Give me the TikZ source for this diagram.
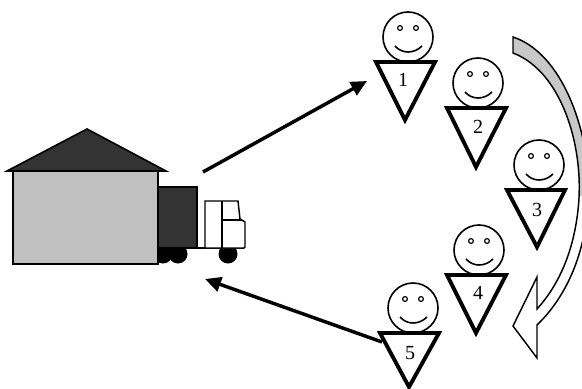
\documentclass[tikz,border=0pt]{standalone}
\usepackage{fontspec}
\setmainfont{Liberation Serif}
\usetikzlibrary{arrows.meta}

\definecolor{wallgray}{RGB}{192,192,192}
\definecolor{darkfill}{RGB}{51,51,51}
\definecolor{bandgray}{RGB}{200,200,200}

\tikzset{
  head/.style={line width=1.2pt},
  eye/.style={line width=0.9pt},
  body/.style={line width=2.9pt, line join=miter},
  num/.style={inner sep=0pt, font=\fontsize{15}{17}\selectfont},
  flow/.style={line width=2.6pt, -{Triangle[length=12pt,width=11pt]}},
}

\begin{document}
\begin{tikzpicture}[x=0.75pt,y=0.75pt,yscale=-1,xscale=1]
\useasboundingbox (0,0) rectangle (582,389);

%Wheels (first one sits behind the wall)
\fill (163,254) circle (9.5);
\fill (178,254) circle (9.5);
\fill (228,254) circle (9.5);
%Chassis
\draw [line width=1.1pt] (197,248) -- (244,248);
%Container
\draw [fill=darkfill, line width=1.1pt] (158,187) rectangle (197,248);
%Cab
\draw [fill=white, line width=1.1pt] (205,248) -- (205,201) -- (238,201) -- (240,219) -- (245,222) -- (245,247) -- (244,248) -- cycle;
\draw [line width=1.1pt] (222,201) -- (222,248);
\draw [line width=1.1pt] (222,220) -- (242,220);

%Wall
\draw [fill=wallgray, line width=1.5pt] (13,171) rectangle (158,264);
%Roof
\draw [fill=darkfill, line width=1.2pt, line join=miter] (7,171) -- (87,129) -- (166,171) -- cycle;

%Person 1
\draw [head] (408,37) circle (25);
\draw [eye] (400,28) circle (2.4);
\draw [eye] (416,28) circle (2.4);
\draw [head] (395,46) .. controls (402,54) and (414,54) .. (422,46);
\draw [body] (376,62) -- (435,62) -- (405,120) -- cycle;
\node [num] (n1) at (403,80) {1};
%Person 2
\draw [head] (478,83) circle (25);
\draw [eye] (470,74) circle (2.4);
\draw [eye] (486,74) circle (2.4);
\draw [head] (465,92) .. controls (472,100) and (484,100) .. (492,92);
\draw [body] (447,108) -- (506,108) -- (476,167) -- cycle;
\node [num] (n2) at (478,127) {2};
%Person 3
\draw [head] (539,165) circle (25);
\draw [eye] (531,156) circle (2.4);
\draw [eye] (547,156) circle (2.4);
\draw [head] (526,174) .. controls (533,182) and (545,182) .. (553,174);
\draw [body] (507,190) -- (565,190) -- (537,247) -- cycle;
\node [num] (n3) at (537,210) {3};
%Person 4
\draw [head] (479,250) circle (25);
\draw [eye] (471,241) circle (2.4);
\draw [eye] (487,241) circle (2.4);
\draw [head] (466,259) .. controls (473,267) and (485,267) .. (493,259);
\draw [body] (447,275) -- (506,275) -- (476,333) -- cycle;
\node [num] (n4) at (478,293) {4};
%Person 5
\draw [head] (413,308) circle (25);
\draw [eye] (405,299) circle (2.4);
\draw [eye] (421,299) circle (2.4);
\draw [head] (400,317) .. controls (407,325) and (419,325) .. (427,317);
\draw [body] (380,333) -- (439,333) -- (409,387) -- cycle;
\node [num] (n5) at (410,353) {5};

%Arrows out of and back into the depot
\coordinate (dock) at (203,172);
\coordinate (p1in) at (367,81);
\coordinate (p5out) at (382,342);
\coordinate (yard) at (205,279);
\draw [flow] (dock) -- (p1in);
\draw [flow] (p5out) -- (yard);

%Curved block arrow down the route
\def\routearrow{(513,37) .. controls (568,55) and (596,150) .. (587,215) .. controls (582,262) and (563,300) .. (537,325) -- (537,358) -- (513,326) -- (537,277) -- (537,309) .. controls (557,287) and (573,255) .. (578,210) .. controls (585,150) and (563,72) .. (513,53) -- cycle}
\fill [white] \routearrow;
\begin{scope}
\clip (500,0) rectangle (600,195);
\fill [bandgray] \routearrow;
\end{scope}
\draw [line width=1.1pt, line join=miter] \routearrow;

\end{tikzpicture}
\end{document}
